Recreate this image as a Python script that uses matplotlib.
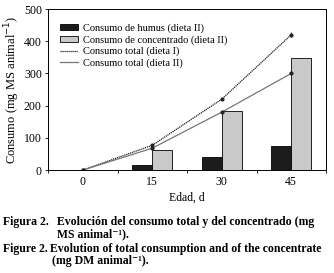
import numpy as np
from matplotlib import pyplot as plt

# data
edad = [0, 15, 30, 45]
humus = [0, 16, 42, 74]
concentrado = [0, 62, 182, 348]
total_dieta1 = [0, 77, 220, 420]
total_dieta2 = [0, 68, 180, 300]
err_dieta1 = [0, 0, 0, 8]

plt.rcParams['font.family'] = ['Liberation Serif', 'DejaVu Serif']

fig = plt.figure(figsize=(3.34, 2.73), dpi=100)
ax = fig.add_axes([0.144, 0.377, 0.832, 0.590])

x = np.array(edad, dtype=float)
width = 4.3
b1 = ax.bar(x - width / 2, humus, width, color='#1c1c1c', edgecolor='black',
            linewidth=0.6)
b2 = ax.bar(x + width / 2, concentrado, width, color='#c9c9c9', edgecolor='black',
            linewidth=0.6)

ax.errorbar(x, total_dieta1, yerr=err_dieta1, color='#222222', linestyle='none',
            elinewidth=0.6, capsize=0)
l1, = ax.plot(x, total_dieta1, color='#222222', linestyle=(0, (1, 0.6)),
              linewidth=0.9, marker='o', markersize=2)
l2, = ax.plot(x, total_dieta2, color='#777777', linestyle='-', linewidth=0.9,
              marker='o', markersize=2, markerfacecolor='#222222',
              markeredgecolor='#222222')

ax.set_xlim(-7.5, 52.5)
ax.set_ylim(0, 500)
ax.set_xticks([-7.5, 7.5, 22.5, 37.5, 52.5])
ax.set_xticklabels([])
ax.set_xticks(edad, minor=True)
ax.set_xticklabels([str(e) for e in edad], minor=True, fontsize=8.5)
ax.tick_params(axis='x', which='minor', length=0, pad=4)
ax.tick_params(axis='x', which='major', length=2.5, width=0.6, direction='out')
ax.set_yticks([0, 100, 200, 300, 400, 500])
ax.tick_params(axis='y', labelsize=8.5, length=2.5, width=0.6, pad=2)
for s in ax.spines.values():
    s.set_linewidth(0.7)

ax.set_xlabel('Edad, d', fontsize=8.5, labelpad=3)
ax.set_ylabel('Consumo (mg MS animal$^{-1}$)', fontsize=9, labelpad=1)

l1_leg, = ax.plot([], [], color='#222222', linestyle=(0, (1, 0.6)), linewidth=0.9)
l2_leg, = ax.plot([], [], color='#777777', linestyle='-', linewidth=0.9)
ax.legend([b1, b2, l1_leg, l2_leg],
          ['Consumo de humus (dieta II)', 'Consumo de concentrado (dieta II)',
           'Consumo total (dieta I)', 'Consumo total (dieta II)'],
          loc='upper left', bbox_to_anchor=(0.02, 0.95), frameon=False,
          fontsize=7.5, handlelength=1.7, handleheight=0.5, labelspacing=0.2,
          borderaxespad=0.2, handletextpad=0.5)

cap = dict(fontsize=8.5, fontweight='bold', va='center', ha='left')
fig.text(0.009, 1 - 222 / 273, 'Figura 2.', **cap)
fig.text(0.170, 1 - 222 / 273, 'Evolución del consumo total y del concentrado (mg', **cap)
fig.text(0.170, 1 - 234 / 273, 'MS animal\u207b\u00b9).', **cap)
fig.text(0.009, 1 - 249 / 273, 'Figure 2.', **cap)
fig.text(0.150, 1 - 249 / 273, 'Evolution of total consumption and of the concentrate', **cap)
fig.text(0.157, 1 - 261 / 273, '(mg DM animal\u207b\u00b9).', **cap)

plt.savefig('out.png', dpi=100)
